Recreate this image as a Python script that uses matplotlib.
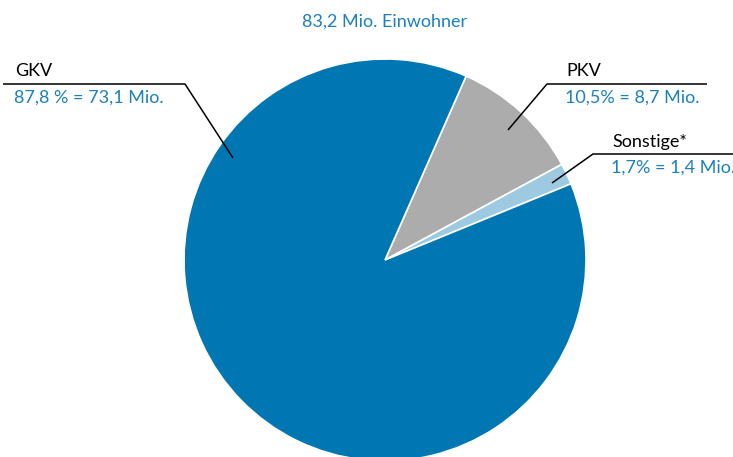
import matplotlib
matplotlib.use("Agg")
import matplotlib.pyplot as plt

# Versicherte nach Krankenversicherungsart (Anteile in %)
labels = ["PKV", "Sonstige*", "GKV"]
shares = [10.5, 1.7, 87.8]
value_texts = ["10,5% = 8,7 Mio.", "1,7% = 1,4 Mio.", "87,8 % = 73,1 Mio."]
title = "83,2 Mio. Einwohner"

colors = ["#ABACAB", "#9ECAE1", "#0077B2"]
text_blue = "#1A80C0"

W, H = 733, 457
fig = plt.figure(figsize=(W / 100, H / 100), dpi=100)
ax = fig.add_axes([0, 0, 1, 1])
plt.rcParams['font.family'] = ['Lato', 'DejaVu Sans']

def Y(y):
    # pixel row (from top) -> data y (from bottom)
    return H - y

ax.pie(shares, colors=colors, startangle=66.2, counterclock=False,
       center=(385, Y(260)), radius=201,
       wedgeprops=dict(edgecolor="white", linewidth=1.2))
ax.set_xlim(0, W)
ax.set_ylim(0, H)
ax.set_aspect("auto")
ax.axis("off")

ax.text(385, Y(27), title, ha="center", va="baseline", fontsize=13, color=text_blue)

# leader lines: (points in pixel coords)
leaders = {
    "GKV": [(3, 84), (185, 84), (233, 158)],
    "PKV": [(707, 84), (547, 84), (508, 130)],
    "Sonstige*": [(733, 154), (593, 154), (552, 183)],
}
for pts in leaders.values():
    ax.plot([p[0] for p in pts], [Y(p[1]) for p in pts], color="black", lw=1.1,
            solid_capstyle="butt", clip_on=False)

label_pos = {"GKV": (15, 76, 103), "PKV": (566, 76, 103), "Sonstige*": (612, 147, 173)}
for lab, vt in zip(labels, value_texts):
    x, yl, yv = label_pos[lab]
    ax.text(x, Y(yl), lab, ha="left", va="baseline", fontsize=13, color="black")
    ax.text(x - 1, Y(yv), vt, ha="left", va="baseline", fontsize=13, color=text_blue)

fig.savefig("out.png", dpi=100, facecolor="white")
